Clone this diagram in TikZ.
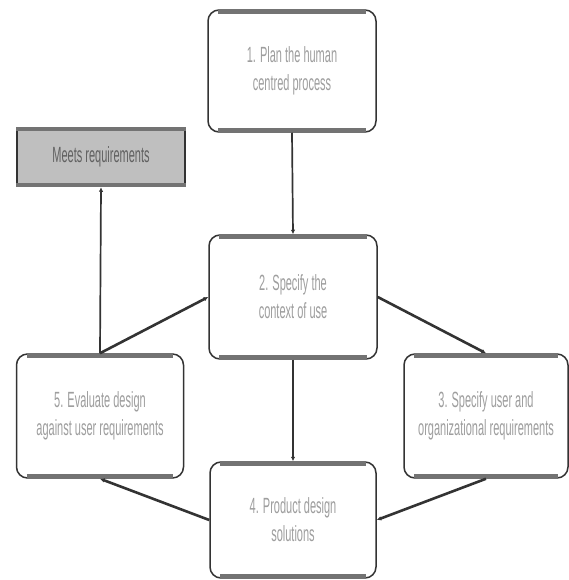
\documentclass[tikz,border=0pt]{standalone}
\usepackage{fontspec}
\newfontfamily\narrowfont[FakeStretch=0.5]{Liberation Sans}
\usetikzlibrary{arrows.meta}

\begin{document}
\begin{tikzpicture}
		[x=1pt,y=-1pt,
		stepbox/.style={draw=black!80,line width=1.5pt,rounded corners=11pt,fill=white,
			align=center,inner sep=0pt,text=black!38,
			font=\narrowfont\fontsize{22}{28}\selectfont},
		goalbox/.style={draw=black!80,line width=1.5pt,fill=black!25,inner sep=0pt,
			text=black!62,font=\narrowfont\fontsize{22}{28}\selectfont},
		band/.style={line width=5pt,black!55},
		flow/.style={draw=black!80,line width=1.7pt,-{Latex[length=4.5pt,width=4.5pt]}},
		slant/.style={flow,line width=2.6pt}]
		\useasboundingbox (0,0) rectangle (569,580);
		\node[stepbox,minimum width=168,minimum height=122] (plan) at (292,71) {1. Plan the human\\centred process};
		\node[stepbox,minimum width=168,minimum height=124] (context) at (293,297) {2. Specify the\\context of use};
		\node[stepbox,minimum width=164,minimum height=124] (require) at (486,416) {3. Specify user and\\organizational requirements};
		\node[stepbox,minimum width=166,minimum height=116] (design) at (293,520) {4. Product design\\solutions};
		\node[stepbox,minimum width=167,minimum height=124] (evaluate) at (100,416) {5. Evaluate design\\against user requirements};
		\node[goalbox,minimum width=168,minimum height=59] (meets) at (101,157) {Meets requirements};
		
		% grey bands along the top and bottom edges
		\foreach \n in {plan,context,require,design,evaluate}
		{
		\draw[band] ([xshift=11pt,yshift=-2pt]\n.north west) -- ([xshift=-11pt,yshift=-2pt]\n.north east);
		\draw[band] ([xshift=11pt,yshift=2pt]\n.south west) -- ([xshift=-11pt,yshift=2pt]\n.south east);
		}
		\draw[band,line width=4pt] ([yshift=-2.5pt]meets.north west) -- ([yshift=-2.5pt]meets.north east);
		\draw[band,line width=4pt] ([yshift=2.5pt]meets.south west) -- ([yshift=2.5pt]meets.south east);
		
		\foreach \from/\to in 
		{plan.south/context.north, context.south/design.north, evaluate.north/meets.south}
		\draw[flow] (\from) -- (\to);
		\foreach \from/\to in 
		{context.east/require.north, require.south/design.east, design.west/evaluate.south, evaluate.north/context.west}
		\draw[slant] (\from) -- (\to);
		\end{tikzpicture}
\end{document}
